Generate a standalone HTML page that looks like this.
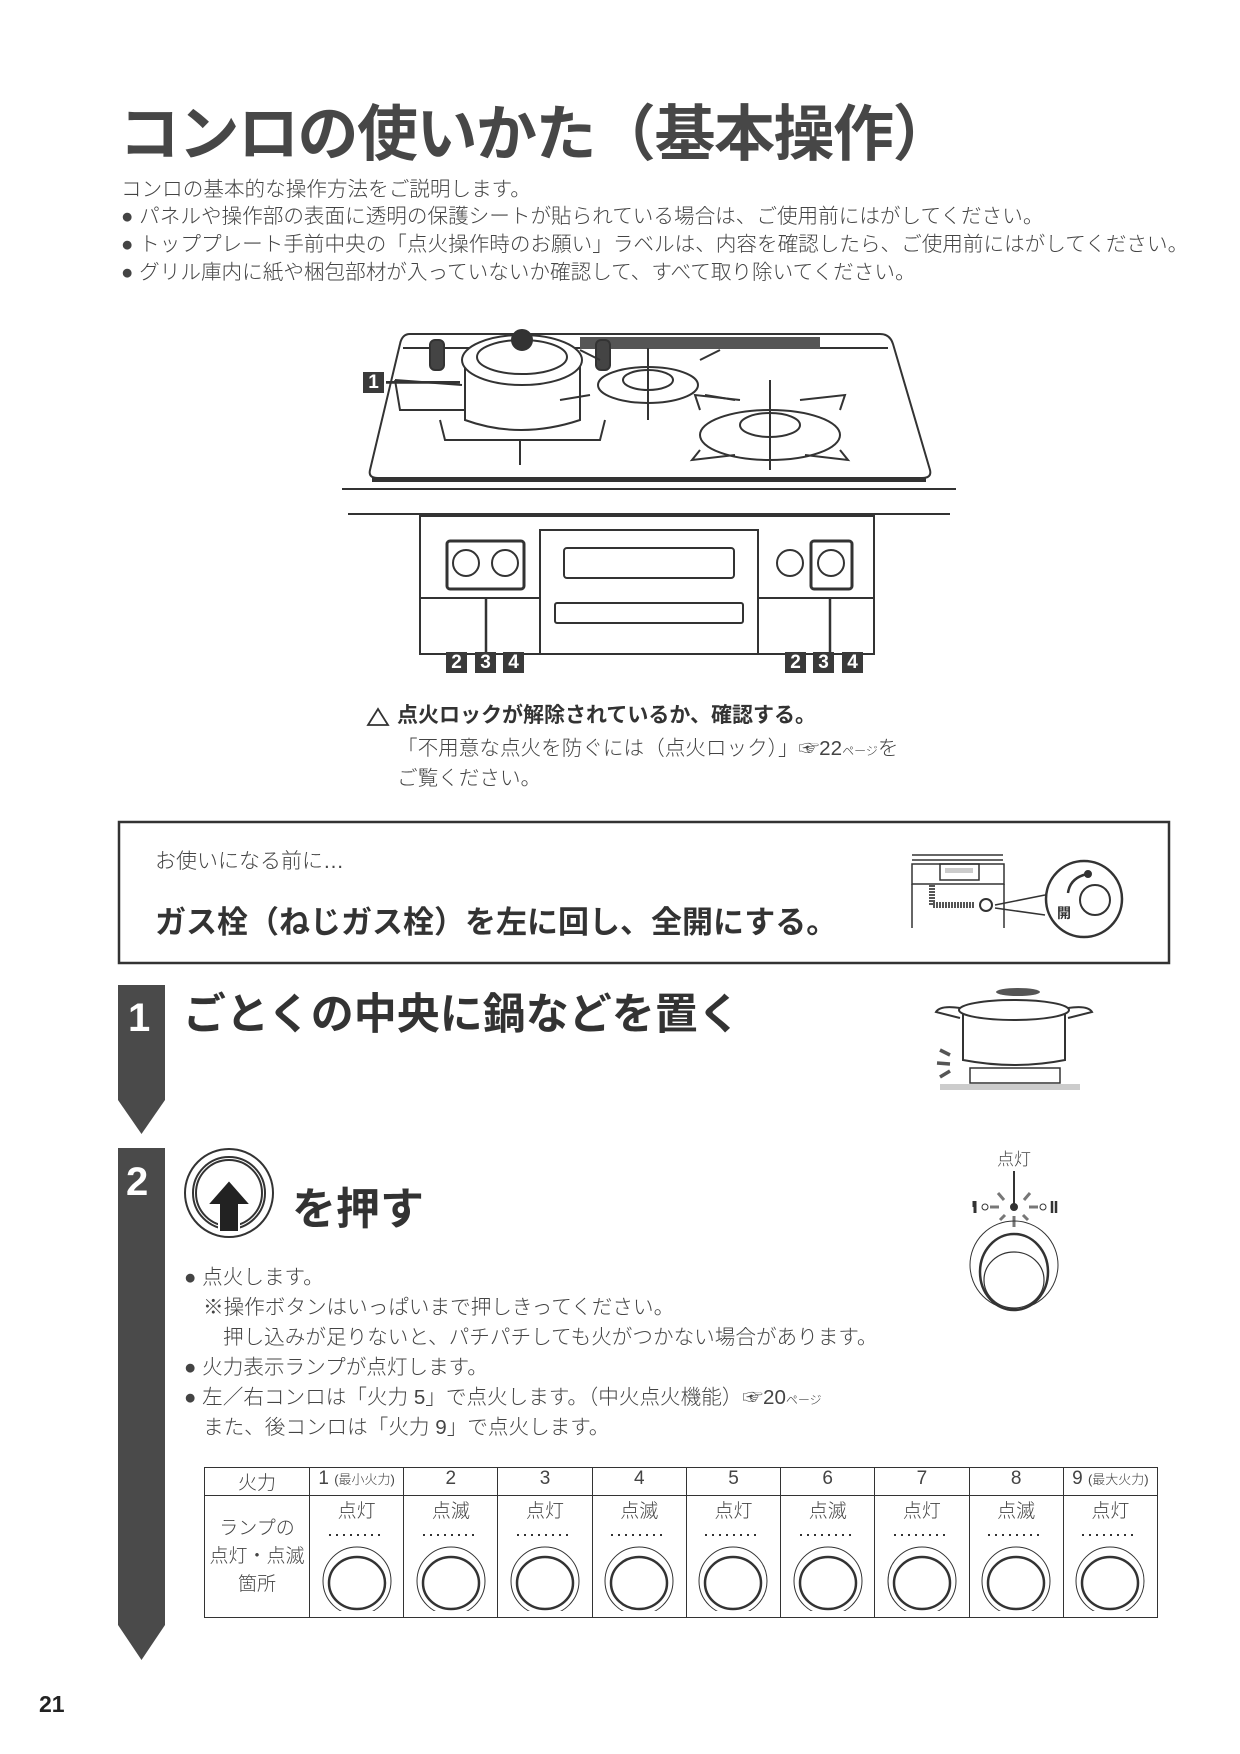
<!DOCTYPE html>
<html><head><meta charset="utf-8">
<style>
*{margin:0;padding:0;box-sizing:border-box}
body{width:1240px;height:1754px;background:#fff;position:relative;overflow:hidden;font-family:"Liberation Sans","Noto Sans CJK JP",sans-serif;color:#333}
.a{position:absolute;white-space:nowrap}
.t{font-size:20.6px;color:#444;font-weight:300}
.num{position:absolute;background:#3a3a3a;color:#fff;font-weight:bold;font-size:19px;width:21px;height:21px;text-align:center;line-height:21px}
table{position:absolute;left:204px;top:1467px;width:954px;border-collapse:collapse;font-size:19px;color:#444}
td{border:1.5px solid #333;text-align:center;vertical-align:top;font-weight:300}
</style></head><body>

<div class="a" style="left:119px;top:84px;font-size:61px;font-weight:bold;color:#474747;letter-spacing:-1.5px">コンロの使いかた（基本操作）</div>

<div class="a t" style="left:121px;top:172px">コンロの基本的な操作方法をご説明します。</div>
<div class="a t" style="left:121px;top:199px">● パネルや操作部の表面に透明の保護シートが貼られている場合は、ご使用前にはがしてください。</div>
<div class="a t" style="left:121px;top:227px">● トッププレート手前中央の「点火操作時のお願い」ラベルは、内容を確認したら、ご使用前にはがしてください。</div>
<div class="a t" style="left:121px;top:255px">● グリル庫内に紙や梱包部材が入っていないか確認して、すべて取り除いてください。</div>

<svg class="a" style="left:0;top:0" width="1240" height="1754" fill="none" stroke="#333" stroke-width="2">
 <path d="M410 334 L880 334 Q890 334 893 344 L930 470 Q932 478 922 478 L378 478 Q368 478 370 470 L400 344 Q402 334 410 334Z" stroke-width="2"/>
 <path d="M372 480 L926 480" stroke-width="4"/>
 <path d="M403 348 L888 348"/>
 <rect x="580" y="337" width="240" height="12" fill="#555" stroke="none"/>
 <path d="M465 360 L465 420 Q520 440 580 420 L580 360"/>
 <ellipse cx="522" cy="360" rx="60" ry="25" fill="#fff"/>
 <ellipse cx="522" cy="357" rx="45" ry="17"/>
 <circle cx="522" cy="340" r="10" fill="#333"/>
 <rect x="430" y="340" width="14" height="30" rx="5" fill="#444"/>
 <rect x="596" y="340" width="14" height="30" rx="5" fill="#444"/>
 <path d="M440 420 L445 440 L600 440 L605 420"/>
 <path d="M520 440 L520 465"/>
 <ellipse cx="648" cy="385" rx="50" ry="18"/>
 <ellipse cx="648" cy="380" rx="25" ry="10"/>
 <path d="M648 348 L648 420"/>
 <path d="M600 360 L580 350 M700 360 L720 350 M590 395 L560 400 M705 395 L735 400"/>
 <ellipse cx="770" cy="435" rx="70" ry="25"/>
 <ellipse cx="770" cy="425" rx="30" ry="12"/>
 <path d="M770 380 L770 470"/>
 <path d="M700 410 L695 395 L740 400 M840 410 L845 395 L800 400 M700 450 L692 460 L735 455 M840 450 L848 460 L805 455"/>
 <path d="M395 380 L462 385 M395 380 L400 410 L465 410"/>
 <path d="M386 383 L460 383" stroke-width="1.5"/>
 <path d="M342 489 L956 489"/>
 <path d="M348 514 L950 514"/>
 <rect x="420" y="516" width="454" height="138"/>
 <path d="M420 598 L540 598 M758 598 L874 598"/>
 <rect x="540" y="530" width="218" height="124"/>
 <rect x="564" y="548" width="170" height="30" rx="3"/>
 <rect x="555" y="603" width="188" height="20" rx="2"/>
 <rect x="447" y="541" width="77" height="48" rx="3" stroke-width="3"/>
 <circle cx="466" cy="563" r="13"/><circle cx="505" cy="563" r="13"/>
 <circle cx="790" cy="563" r="13"/>
 <rect x="811" y="541" width="41" height="48" rx="3" stroke-width="3"/>
 <circle cx="831" cy="563" r="13"/>
 <path d="M486 598 L486 652 M830 598 L830 652" stroke-width="2.5"/>
 <path d="M386 382 L460 382" stroke-width="2"/>
 <path d="M368 725 L378 709 L388 725Z" stroke-width="1.8"/>
 <path d="M118 985 L165 985 L165 1100 L141.5 1134 L118 1100Z" fill="#4a4a4a" stroke="none"/>
 <path d="M118 1148 L165 1148 L165 1625 L141.5 1660 L118 1625Z" fill="#4a4a4a" stroke="none"/>
 <rect x="119" y="822" width="1050" height="141" stroke-width="2.5"/>
 <path d="M912 855 L1003 855 M912 860 L1003 860" stroke-width="1.5"/>
 <rect x="912" y="864" width="92" height="20" stroke-width="1.5"/>
 <rect x="940" y="864" width="39" height="16" stroke-width="1.5"/>
 <rect x="945" y="868" width="28" height="5" fill="#ccc" stroke="none"/>
 <path d="M912 884 L912 928 M1004 884 L1004 928" stroke-width="1.5"/>
 <path d="M932 885 L932 905 L975 905" stroke-width="6" stroke="#555" stroke-dasharray="2 1"/>
 <circle cx="986" cy="905" r="6"/>
 <path d="M995 905 L1045 895 M995 908 L1045 915" stroke-width="1.5"/>
 <circle cx="1084" cy="899" r="38" stroke-width="2.5" fill="#fff"/>
 <circle cx="1095" cy="900" r="15"/>
 <path d="M1087 874 Q1070 878 1068 893" stroke-width="2.5"/>
 <circle cx="1088" cy="874" r="3" fill="#333"/>
 <ellipse cx="1018" cy="992" rx="22" ry="4" fill="#555" stroke="none"/>
 <path d="M963 1013 L963 1060 Q1015 1070 1065 1060 L1065 1013"/>
 <ellipse cx="1014" cy="1010" rx="55" ry="10" fill="#fff"/>
 <path d="M960 1008 Q940 1005 936 1012 L960 1018 M1068 1008 Q1088 1005 1092 1012 L1068 1018"/>
 <rect x="970" y="1068" width="90" height="15" stroke-width="1.5"/>
 <rect x="940" y="1084" width="140" height="6" fill="#ccc" stroke="none"/>
 <path d="M940 1050 L950 1055 M937 1063 L950 1064 M940 1077 L950 1071" stroke-width="3.5" stroke="#555"/>
 <circle cx="229" cy="1193" r="44"/>
 <circle cx="229" cy="1193" r="36"/>
 <circle cx="229" cy="1193" r="33"/>
 <path d="M229 1180 L207 1205 L219 1205 L219 1232 L239 1232 L239 1205 L251 1205Z" fill="#222" stroke="#fff" stroke-width="2"/>
 <path d="M1014 1171 L1014 1207"/>
 <circle cx="1014" cy="1207" r="3" fill="#333"/>
 <path d="M974 1207 L974 1201 M975 1201 L975 1213" stroke-width="3"/>
 <circle cx="985" cy="1207" r="3" stroke-width="1"/><circle cx="1043" cy="1207" r="3" stroke-width="1"/>
 <path d="M990 1207 L999 1207 M1029 1207 L1038 1207 M998 1193 L1004 1200 M1030 1193 L1024 1200 M1000 1220 L1005 1215 M1028 1220 L1023 1215 M1014 1216 L1014 1227" stroke="#777" stroke-width="3"/>
 <path d="M1052 1201 L1052 1213 M1056 1201 L1056 1213" stroke-width="2.5"/>
 <circle cx="1014" cy="1265" r="44" stroke-width="1"/>
 <ellipse cx="1014" cy="1272" rx="34" ry="38" stroke-width="2.5"/>
 <ellipse cx="1014" cy="1280" rx="30" ry="28" stroke-width="1.2"/>
</svg>

<div class="num" style="left:363px;top:372px">1</div>
<div class="num" style="left:446px;top:652px">2</div><div class="num" style="left:475px;top:652px">3</div><div class="num" style="left:503px;top:652px">4</div>
<div class="num" style="left:785px;top:652px">2</div><div class="num" style="left:813px;top:652px">3</div><div class="num" style="left:842px;top:652px">4</div>

<div class="a" style="left:397px;top:699px;font-size:21px;font-weight:bold;color:#333">点火ロックが解除されているか、確認する。</div>
<div class="a t" style="left:397px;top:731px">「不用意な点火を防ぐには（点火ロック）」☞22<span style="font-size:12px">ページ</span>を</div>
<div class="a t" style="left:397px;top:761px">ご覧ください。</div>

<div class="a t" style="left:155px;top:845px;font-size:21px">お使いになる前に…</div>
<div class="a" style="left:155px;top:897px;font-size:31px;font-weight:bold;color:#333">ガス栓（ねじガス栓）を左に回し、全開にする。</div>
<div class="a" style="left:1057px;top:903px;font-size:14px;font-weight:bold;color:#333">開</div>

<div class="a" style="left:128px;top:996px;font-size:40px;font-weight:bold;color:#fff">1</div>
<div class="a" style="left:183px;top:980px;font-size:43px;font-weight:bold;color:#333">ごとくの中央に鍋などを置く</div>

<div class="a" style="left:126px;top:1160px;font-size:40px;font-weight:bold;color:#fff">2</div>
<div class="a" style="left:292px;top:1173px;font-size:44px;font-weight:bold;color:#333">を押す</div>
<div class="a t" style="left:997px;top:1145px;font-size:17px">点灯</div>

<div class="a t" style="left:184px;top:1260px">● 点火します。</div>
<div class="a t" style="left:203px;top:1290px">※操作ボタンはいっぱいまで押しきってください。</div>
<div class="a t" style="left:223px;top:1320px">押し込みが足りないと、パチパチしても火がつかない場合があります。</div>
<div class="a t" style="left:184px;top:1350px">● 火力表示ランプが点灯します。</div>
<div class="a t" style="left:184px;top:1380px">● 左／右コンロは「火力 5」で点火します。（中火点火機能）☞20<span style="font-size:12px">ページ</span></div>
<div class="a t" style="left:203px;top:1410px">また、後コンロは「火力 9」で点火します。</div>

<table>
<tr style="height:28px"><td style="width:105px">火力</td><td>1 <span style="font-size:13px">(最小火力)</span></td><td>2</td><td>3</td><td>4</td><td>5</td><td>6</td><td>7</td><td>8</td><td>9 <span style="font-size:13px">(最大火力)</span></td></tr>
<tr style="height:117px"><td style="vertical-align:middle;line-height:28px">ランプの<br>点灯・点滅<br>箇所</td>
<td>点灯<svg width="80" height="88"><g fill="none" stroke="#333"><path d="M12 12 L68 12" stroke-dasharray="2 5" stroke-width="2"/><circle cx="40" cy="58" r="34"/><ellipse cx="40" cy="60" rx="28" ry="26" stroke-width="2.5"/></g></svg></td>
<td>点滅<svg width="80" height="88"><g fill="none" stroke="#333"><path d="M12 12 L68 12" stroke-dasharray="2 5" stroke-width="2"/><circle cx="40" cy="58" r="34"/><ellipse cx="40" cy="60" rx="28" ry="26" stroke-width="2.5"/></g></svg></td>
<td>点灯<svg width="80" height="88"><g fill="none" stroke="#333"><path d="M12 12 L68 12" stroke-dasharray="2 5" stroke-width="2"/><circle cx="40" cy="58" r="34"/><ellipse cx="40" cy="60" rx="28" ry="26" stroke-width="2.5"/></g></svg></td>
<td>点滅<svg width="80" height="88"><g fill="none" stroke="#333"><path d="M12 12 L68 12" stroke-dasharray="2 5" stroke-width="2"/><circle cx="40" cy="58" r="34"/><ellipse cx="40" cy="60" rx="28" ry="26" stroke-width="2.5"/></g></svg></td>
<td>点灯<svg width="80" height="88"><g fill="none" stroke="#333"><path d="M12 12 L68 12" stroke-dasharray="2 5" stroke-width="2"/><circle cx="40" cy="58" r="34"/><ellipse cx="40" cy="60" rx="28" ry="26" stroke-width="2.5"/></g></svg></td>
<td>点滅<svg width="80" height="88"><g fill="none" stroke="#333"><path d="M12 12 L68 12" stroke-dasharray="2 5" stroke-width="2"/><circle cx="40" cy="58" r="34"/><ellipse cx="40" cy="60" rx="28" ry="26" stroke-width="2.5"/></g></svg></td>
<td>点灯<svg width="80" height="88"><g fill="none" stroke="#333"><path d="M12 12 L68 12" stroke-dasharray="2 5" stroke-width="2"/><circle cx="40" cy="58" r="34"/><ellipse cx="40" cy="60" rx="28" ry="26" stroke-width="2.5"/></g></svg></td>
<td>点滅<svg width="80" height="88"><g fill="none" stroke="#333"><path d="M12 12 L68 12" stroke-dasharray="2 5" stroke-width="2"/><circle cx="40" cy="58" r="34"/><ellipse cx="40" cy="60" rx="28" ry="26" stroke-width="2.5"/></g></svg></td>
<td>点灯<svg width="80" height="88"><g fill="none" stroke="#333"><path d="M12 12 L68 12" stroke-dasharray="2 5" stroke-width="2"/><circle cx="40" cy="58" r="34"/><ellipse cx="40" cy="60" rx="28" ry="26" stroke-width="2.5"/></g></svg></td>
</tr></table>

<div class="a" style="left:39px;top:1691px;font-size:23px;font-weight:bold;color:#222">21</div>
</body></html>
